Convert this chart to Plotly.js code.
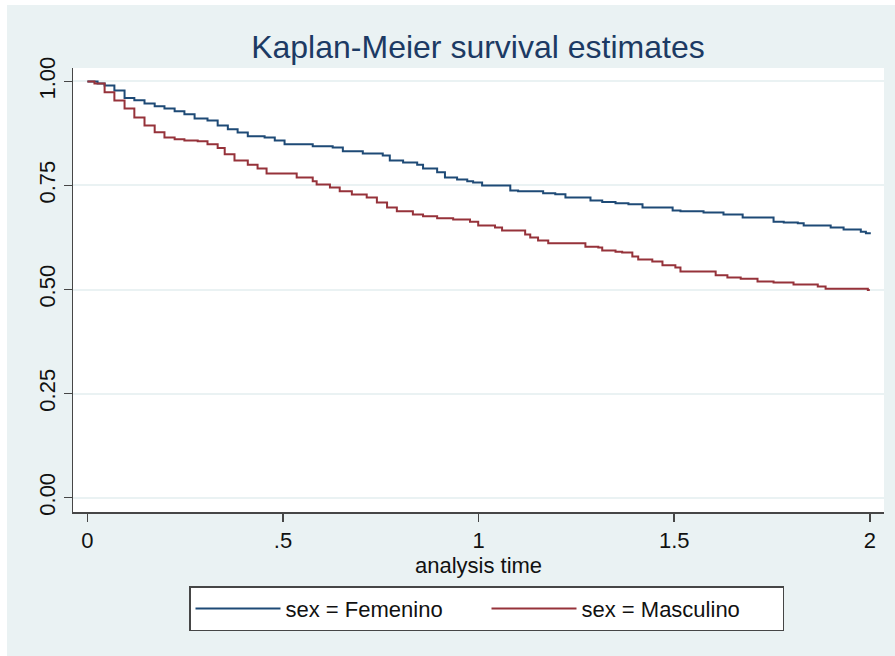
<!DOCTYPE html>
<html><head><meta charset="utf-8">
<script src="https://cdn.plot.ly/plotly-3.0.1.min.js"></script>
<style>html,body{margin:0;padding:0;background:#fff}</style>
</head><body><div id="chart" style="width:895px;height:656px"></div>
<script>
// Kaplan-Meier step estimates
const femTime = [0, 0.026, 0.044, 0.069, 0.095, 0.120, 0.146, 0.172, 0.197, 0.223, 0.248, 0.274, 0.307, 0.333, 0.359, 0.384, 0.410, 0.453, 0.479, 0.504, 0.576, 0.627, 0.653, 0.704, 0.755, 0.773, 0.807, 0.843, 0.858, 0.894, 0.914, 0.945, 0.971, 0.986, 1.009, 1.081, 1.101, 1.165, 1.196, 1.222, 1.286, 1.316, 1.350, 1.383, 1.419, 1.496, 1.516, 1.575, 1.626, 1.675, 1.754, 1.780, 1.816, 1.831, 1.900, 1.933, 1.977, 1.990, 2.0];
const femSurv = [1.000, 0.995, 0.990, 0.978, 0.960, 0.955, 0.947, 0.940, 0.935, 0.928, 0.921, 0.911, 0.906, 0.894, 0.885, 0.877, 0.868, 0.865, 0.858, 0.849, 0.844, 0.841, 0.832, 0.827, 0.822, 0.810, 0.805, 0.800, 0.791, 0.782, 0.769, 0.764, 0.760, 0.757, 0.750, 0.738, 0.736, 0.731, 0.729, 0.721, 0.714, 0.710, 0.707, 0.705, 0.697, 0.690, 0.688, 0.685, 0.680, 0.673, 0.663, 0.661, 0.659, 0.654, 0.649, 0.644, 0.639, 0.635, 0.633];
const masTime = [0, 0.018, 0.044, 0.069, 0.095, 0.120, 0.146, 0.172, 0.197, 0.223, 0.248, 0.282, 0.307, 0.333, 0.351, 0.376, 0.410, 0.435, 0.458, 0.535, 0.576, 0.586, 0.620, 0.645, 0.676, 0.714, 0.740, 0.766, 0.791, 0.832, 0.858, 0.894, 0.935, 0.978, 0.999, 1.042, 1.060, 1.119, 1.132, 1.152, 1.178, 1.273, 1.306, 1.316, 1.350, 1.367, 1.393, 1.408, 1.444, 1.470, 1.503, 1.516, 1.606, 1.636, 1.670, 1.713, 1.754, 1.805, 1.867, 1.887, 1.995, 2.0];
const masSurv = [1.000, 0.995, 0.974, 0.954, 0.935, 0.913, 0.894, 0.878, 0.865, 0.861, 0.858, 0.856, 0.849, 0.840, 0.825, 0.810, 0.800, 0.791, 0.779, 0.769, 0.760, 0.752, 0.745, 0.736, 0.728, 0.721, 0.709, 0.697, 0.688, 0.680, 0.676, 0.671, 0.668, 0.663, 0.654, 0.649, 0.642, 0.632, 0.625, 0.618, 0.611, 0.603, 0.601, 0.594, 0.591, 0.589, 0.579, 0.572, 0.567, 0.558, 0.553, 0.543, 0.534, 0.529, 0.526, 0.519, 0.517, 0.512, 0.507, 0.502, 0.499, 0.499];
const seriesNames = ["sex = Femenino", "sex = Masculino"];
const xTickVals = [0, 0.5, 1, 1.5, 2];
const xTickText = ["0", ".5", "1", "1.5", "2"];
const yTickVals = [0, 0.25, 0.5, 0.75, 1];
const yTickText = ["0.00", "0.25", "0.50", "0.75", "1.00"];

const FONT = "Liberation Sans, Arial, sans-serif";
const BG = "rgb(234,242,243)";
const AX = "rgb(70,70,70)";

const traces = [
  {x: femTime, y: femSurv, name: seriesNames[0], type: "scatter", mode: "lines",
   line: {shape: "hv", color: "rgb(30,74,118)", width: 2}},
  {x: masTime, y: masSurv, name: seriesNames[1], type: "scatter", mode: "lines",
   line: {shape: "hv", color: "rgb(150,50,58)", width: 2}}
];

const layout = {
  width: 895, height: 656,
  paper_bgcolor: BG, plot_bgcolor: "#ffffff",
  margin: {l: 73, r: 11, t: 68, b: 144, pad: 0},
  font: {family: FONT, size: 22, color: "#111"},
  title: {text: "Kaplan-Meier survival estimates", font: {family: FONT, size: 32, color: "rgb(28,58,100)"},
          x: 0.534, xref: "container", xanchor: "center", y: 0.928, yref: "container", yanchor: "middle"},
  xaxis: {range: [-0.0368, 2.0363], tickvals: xTickVals, ticktext: xTickText,
          showgrid: false, zeroline: false, showline: true, linecolor: AX, linewidth: 1.5,
          ticks: "outside", ticklen: 8, tickcolor: AX, tickwidth: 1.5,
          tickfont: {family: FONT, size: 22, color: "#111"},
          title: {text: "analysis time", font: {family: FONT, size: 22, color: "#111"}, standoff: 1}},
  yaxis: {range: [-0.0346, 1.0322], tickvals: yTickVals, ticktext: yTickText, tickangle: -90,
          showgrid: true, gridcolor: BG, gridwidth: 2, zeroline: false,
          showline: true, linecolor: AX, linewidth: 1.5,
          ticks: "outside", ticklen: 8, tickcolor: AX, tickwidth: 1.5,
          tickfont: {family: FONT, size: 22, color: "#111"}},
  legend: {orientation: "h", x: (189 - 73) / 811, xanchor: "left", y: -0.167, yanchor: "top",
           bgcolor: "#ffffff", bordercolor: "rgb(70,70,70)", borderwidth: 1.5,
           font: {family: FONT, size: 22, color: "#111"}, itemwidth: 85, entrywidth: 196,
           traceorder: "normal"},
  shapes: [
    {type: "rect", xref: "paper", yref: "paper", x0: -0.1, x1: (7 - 73) / 811, y0: -0.4, y1: 1.2,
     fillcolor: "#ffffff", line: {width: 0}, layer: "below"},
    {type: "rect", xref: "paper", yref: "paper", x0: -0.1, x1: 1.1, y0: (512 - 5) / 444, y1: 1.2,
     fillcolor: "#ffffff", line: {width: 0}, layer: "below"}
  ],
  showlegend: true
};

Plotly.newPlot("chart", traces, layout, {displayModeBar: false, staticPlot: true});
</script>
</body></html>
